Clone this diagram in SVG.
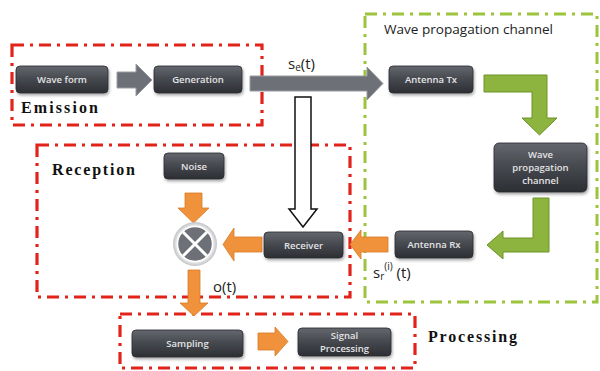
<svg xmlns="http://www.w3.org/2000/svg" width="600" height="371" viewBox="0 0 600 371">
<defs>
<linearGradient id="ng" x1="0" y1="0" x2="0" y2="1">
<stop offset="0" stop-color="#64676e"/>
<stop offset="0.5" stop-color="#45484e"/>
<stop offset="1" stop-color="#2c2e33"/>
</linearGradient>
<filter id="sh" x="-10%" y="-20%" width="130%" height="150%">
<feDropShadow dx="1" dy="2" stdDeviation="1.5" flood-color="#000" flood-opacity="0.35"/>
</filter>
<radialGradient id="cg" cx="0.5" cy="0.5" r="0.5">
<stop offset="0.8" stop-color="#f2f2f2"/>
<stop offset="1" stop-color="#bfc1c4"/>
</radialGradient>
</defs>
<style>
.node rect{fill:url(#ng);stroke:#2a2c30;stroke-width:0.8;filter:url(#sh)}
.node text{font-family:"Open Sans","Liberation Sans",sans-serif;font-size:9.5px;font-weight:600;fill:#e4e4e6;text-anchor:middle}
.red{fill:none;stroke:#e2231a;stroke-width:3.2;stroke-dasharray:12 6 3 6}
.grn{fill:none;stroke:#9cc43c;stroke-width:3;stroke-dasharray:12 6 3 6}
.org{fill:#f0923b;stroke:#d87a26;stroke-width:0.8}
.gr{fill:#8db43f;stroke:#6c9328;stroke-width:1}
.gy{fill:#6d7077;stroke:#9a9ca1;stroke-width:1}
.lbl{font-family:"Liberation Serif",serif;font-weight:bold;font-size:16px;fill:#111}
.math{font-family:"Open Sans","Liberation Sans",sans-serif;font-size:15px;fill:#222}
</style>

<g id="groups">
<rect class="red" x="12" y="45" width="250" height="80"/>
<rect class="grn" x="365" y="14" width="232" height="288"/>
<rect class="red" x="37" y="145" width="313" height="152"/>
<rect class="red" x="120" y="314" width="295" height="54"/>
<text class="lbl" x="21" y="113" textLength="77" lengthAdjust="spacing">Emission</text>
<text class="lbl" x="52" y="175" textLength="83" lengthAdjust="spacing">Reception</text>
<text class="lbl" x="428" y="342" textLength="89" lengthAdjust="spacing">Processing</text>
<text x="384" y="34" font-family="Open Sans, Liberation Sans, sans-serif" font-size="13.5" fill="#222" textLength="169" lengthAdjust="spacingAndGlyphs">Wave propagation channel</text>
</g>

<g id="connectors">
<path class="gy" d="M117,72 L136,72 L136,64 L152,80 L136,96 L136,88 L117,88 Z"/>
<path class="gy" d="M250,76 L367,76 L367,67 L383,83.5 L367,100 L367,91 L250,91 Z"/>
<path d="M295,97 L311,97 L311,209 L317,209 L303,227 L289,209 L295,209 Z" fill="#fff" stroke="#111" stroke-width="1.5"/>
<path class="gr" d="M484,75 L547,75 L547,118 L557,118 L539.5,135 L522,118 L532,118 L532,92 L484,92 Z"/>
<path class="gr" d="M533,198 L549,198 L549,252 L503,252 L503,259 L487,245 L503,231 L503,238 L533,238 Z"/>
<path class="org" d="M388,237 L361,237 L361,230 L350,244.5 L361,259 L361,252 L388,252 Z"/>
<path class="org" d="M262,237 L234,237 L234,228 L223,244.5 L234,261 L234,252 L262,252 Z"/>
<path class="org" d="M185,193 L202,193 L202,208 L209,208 L193.5,223 L178,208 L185,208 Z"/>
<path class="org" d="M188,270 L200,270 L200,303 L208,303 L194,316 L180,303 L188,303 Z"/>
<path class="org" d="M258,333 L275,333 L275,327 L288,341.5 L275,356 L275,350 L258,350 Z"/>
<text class="math" x="288" y="69">s<tspan font-size="10" dy="2">e</tspan><tspan dy="-2">(t)</tspan></text>
<text class="math" x="213" y="292">o(t)</text>
<text class="math" x="373" y="278">s<tspan font-size="10" dy="2">r</tspan><tspan font-size="10" dy="-10">(i)</tspan><tspan dy="8"> (t)</tspan></text>
</g>

<g id="waveform" class="node"><rect x="16" y="66" width="92" height="27" rx="4"/><text x="62" y="83">Wave form</text></g>
<g id="generation" class="node"><rect x="154" y="66" width="88" height="27" rx="4"/><text x="198" y="83">Generation</text></g>
<g id="antennaTx" class="node"><rect x="389" y="66" width="84" height="27" rx="4"/><text x="431" y="83">Antenna Tx</text></g>
<g id="channel" class="node"><rect x="494" y="143" width="93" height="49" rx="5"/><text x="540.5" y="158">Wave</text><text x="540.5" y="171">propagation</text><text x="540.5" y="184">channel</text></g>
<g id="antennaRx" class="node"><rect x="395" y="231" width="78" height="27" rx="4"/><text x="434" y="248">Antenna Rx</text></g>
<g id="receiver" class="node"><rect x="264" y="232" width="79" height="26" rx="4"/><text x="303.5" y="248.5">Receiver</text></g>
<g id="noise" class="node"><rect x="164" y="153" width="60" height="26" rx="4"/><text x="194" y="169.5">Noise</text></g>
<g id="sampling" class="node"><rect x="132" y="330" width="111" height="27" rx="4"/><text x="187.5" y="347">Sampling</text></g>
<g id="signalproc" class="node"><rect x="298" y="328" width="93" height="28" rx="4"/><text x="344.5" y="339">Signal</text><text x="344.5" y="352">Processing</text></g>

<g id="mixer">
<circle cx="195" cy="244" r="22" fill="url(#cg)"/>
<circle cx="195" cy="244" r="17.5" fill="#6e7077" stroke="#fff" stroke-width="1.5"/>
<path d="M183,232 L207,256 M207,232 L183,256" stroke="#fff" stroke-width="3"/>
</g>
</svg>
